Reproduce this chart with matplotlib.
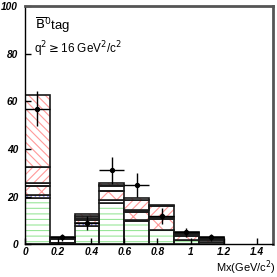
"""
Mx distribution, B0bar tag, q^2 >= 16 GeV^2/c^2 : stacked MC components + data.
"""

import numpy as np
import matplotlib
matplotlib.use("Agg")
import matplotlib.pyplot as plt


# bins in Mx (GeV/c^2)
bin_edges = [0.0, 0.15, 0.30, 0.45, 0.60, 0.75, 0.90, 1.05, 1.20]

# stacked components, bottom to top (events per bin)
comp_green = [19.6, 0.3, 7.6, 17.2, 9.8, 6.0, 1.8, 1.0]
comp_blue = [1.0, 0.1, 1.2, 1.3, 0.3, 0.2, 0.2, 0.1]
comp_red_x = [4.0, 0.3, 1.4, 3.7, 3.5, 4.6, 1.6, 0.9]
comp_white = [1.0, 1.6, 0.8, 2.3, 0.7, 0.6, 0.7, 0.4]
comp_red_fwd = [7.0, 0.3, 0.8, 0.6, 4.2, 4.6, 0.6, 0.4]
comp_red_back = [30.0, 0.3, 1.1, 0.6, 1.1, 0.5, 0.4, 0.4]

# data points
data_y = [57, 3, 9, 31, 25, 12, 5, 3]
data_err = [7.5, 1.5, 3.0, 5.5, 5.0, 3.3, 2.0, 1.5]

x_ticks = [0, 0.2, 0.4, 0.6, 0.8, 1.0, 1.2, 1.4]
x_tick_labels = ["0", "0.2", "0.4", "0.6", "0.8", "1", "1.2", "1.4"]
y_ticks = [0, 20, 40, 60, 80, 100]

plt.rcParams["font.family"] = ["Liberation Sans", "DejaVu Sans"]
plt.rcParams["hatch.linewidth"] = 0.8

edges = np.array(bin_edges)
left = edges[:-1]
width = np.diff(edges)
centers = left + width / 2

fig = plt.figure(figsize=(2.77, 2.77), dpi=100)
ax = fig.add_axes([0.09, 0.118, 0.897, 0.86])

# (values, hatch, hatch colour)
layers = [
    (comp_green, "---", "#99e699"),
    (comp_blue, "....", "#7777ee"),
    (comp_red_x, "xx", "#ff9a9a"),
    (comp_white, None, None),
    (comp_red_fwd, "////", "#ff9a9a"),
    (comp_red_back, "\\\\\\\\", "#ff9a9a"),
]

bottom = np.zeros(len(left))
for vals, hatch, hcol in layers:
    vals = np.array(vals)
    if hatch is not None:
        ax.bar(left, vals, width=width, bottom=bottom, align="edge",
               facecolor="white", edgecolor=hcol, hatch=hatch, linewidth=0)
    ax.bar(left, vals, width=width, bottom=bottom, align="edge",
           fill=False, edgecolor="#1a1a1a", linewidth=1.2)
    bottom = bottom + vals

ax.errorbar(centers, data_y, yerr=data_err, xerr=width / 2, fmt="o",
            color="black", markersize=2.8, elinewidth=1.0, capsize=0, zorder=5)

ax.set_xlim(0, 1.5)
ax.set_ylim(0, 100)
ax.set_xticks(x_ticks)
ax.set_xticklabels(x_tick_labels)
ax.set_yticks(y_ticks)
ax.tick_params(direction="in", length=4, width=1)
ax.tick_params(axis="x", pad=2)
ax.tick_params(axis="y", pad=5)
for lab in ax.get_xticklabels() + ax.get_yticklabels():
    lab.set_fontsize(7.3)
    lab.set_fontweight("bold")
    lab.set_fontstyle("italic")

for side in ["top", "right"]:
    ax.spines[side].set_linewidth(2)
    ax.spines[side].set_color("#555555")
for side in ["left", "bottom"]:
    ax.spines[side].set_linewidth(1)
    ax.spines[side].set_color("black")

ax.text(0.06, 92, r"$\overline{\mathrm{B}}^{0}$tag", fontsize=9.5, va="center")
ax.text(0.055, 82, r"q$^2\geq$16 GeV$^2$/c$^2$", fontsize=8.5, va="center")
fig.text(0.997, 0.0, r"Mx(GeV/c$^2$)", fontsize=8, ha="right", va="bottom")

fig.savefig("out.png", dpi=100)
plt.close(fig)
